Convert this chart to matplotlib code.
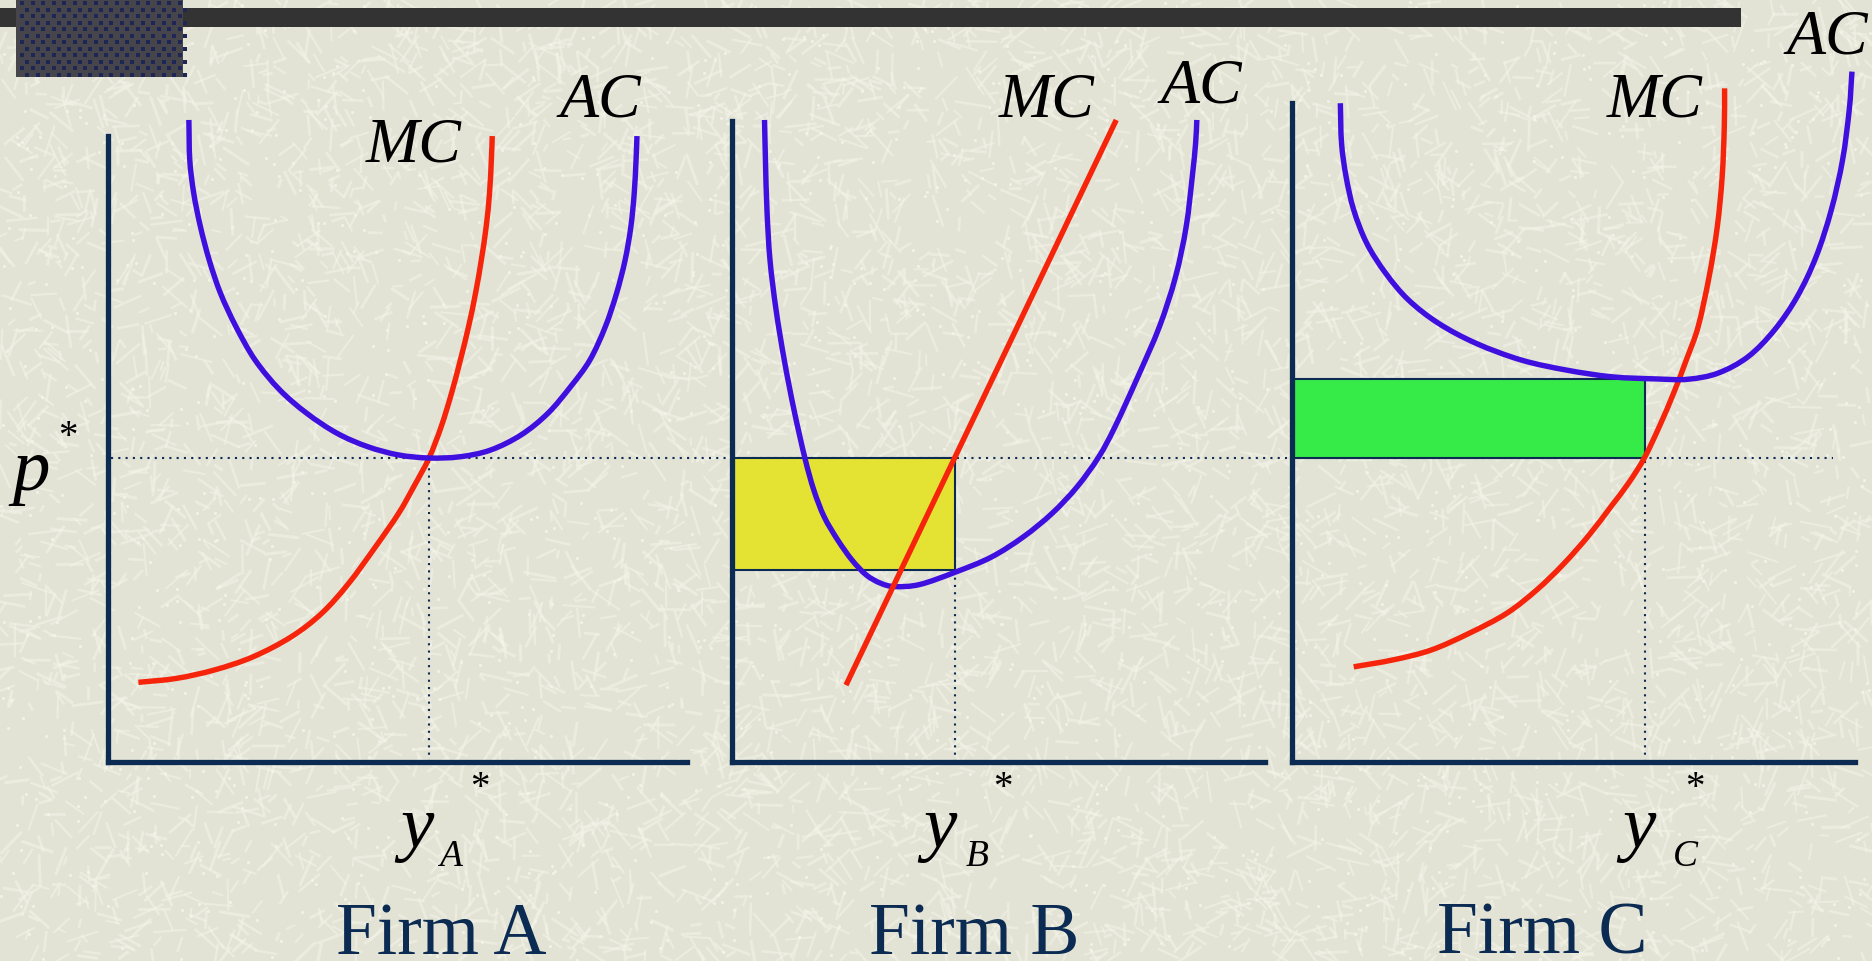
import numpy as np
import matplotlib.pyplot as plt
from matplotlib.collections import LineCollection
from matplotlib.patches import Rectangle, PathPatch
from matplotlib.path import Path

plt.rcParams['font.family'] = ['Liberation Serif', 'DejaVu Serif']

# price / quantity units: p* = 100 on every panel
P_STAR = 100.0

# Firm A: AC touches p* at its minimum
acA_q = [26.6, 26.9, 28.2, 30.4, 33.3, 37.0, 42.1, 48.4, 56.5, 65.4, 75.4, 85.5, 95.6, 105.6,
         115.7, 125.8, 135.9, 144.7, 152.2, 158.5, 163.6, 167.3, 170.1, 172.0, 173.1, 173.7, 174.0]
acA_p = [211.2, 198.0, 187.1, 176.1, 165.1, 154.2, 143.2, 132.2, 122.4, 114.7, 108.1, 103.7, 101.0, 100.0,
         100.4, 102.6, 107.6, 114.7, 123.5, 132.2, 143.2, 154.2, 165.1, 176.1, 187.1, 198.0, 205.9]
mcA_q = [10.0, 22.5, 35.1, 47.7, 60.3, 70.4, 79.2, 88.0, 95.6, 100.6, 105.6,
         109.6, 113.0, 115.9, 118.6, 120.9, 122.8, 124.4, 125.5, 126.1, 126.4]
mcA_p = [26.2, 27.5, 30.3, 34.6, 41.2, 49.0, 58.8, 70.8, 81.8, 90.6, 100.0,
         110.3, 121.3, 132.2, 143.2, 154.2, 165.1, 176.1, 187.1, 198.0, 205.9]
yA_star = 105.5

# Firm B: p* above AC minimum (profit)
acB_q = [10.7, 11.0, 11.5, 12.5, 14.5, 17.2, 20.4, 24.0, 26.9, 30.3, 34.8, 39.5, 44.2, 48.9, 53.6,
         61.8, 73.6, 85.3, 95.9, 105.3, 113.5, 120.6, 126.0, 133.5, 140.6, 145.9, 149.4, 151.4, 152.5, 152.9]
acB_p = [211.2, 198.0, 181.6, 165.1, 148.7, 132.2, 115.8, 99.9, 89.5, 80.7, 73.0, 66.4, 61.5, 58.8, 57.7,
         58.4, 62.5, 67.4, 74.1, 81.8, 90.5, 100.3, 110.3, 126.7, 143.2, 159.6, 176.1, 192.5, 203.5, 211.2]
mcB_q = [37.5, 126.4]
mcB_p = [25.3, 211.2]
yB_star = 73.4
acB_at_yB = 63.0

# Firm C: p* below AC minimum (loss)
acC_q = [15.9, 16.3, 17.8, 20.3, 24.6, 30.8, 38.3, 48.2, 60.6, 75.5, 90.4, 105.3, 120.2, 130.2,
         140.1, 150.0, 158.7, 166.2, 172.4, 177.4, 181.1, 183.3, 184.2]
acC_p = [216.7, 203.5, 192.5, 181.6, 170.6, 160.8, 152.0, 144.3, 137.7, 132.2, 128.9, 126.7, 126.0, 125.9,
         127.9, 133.3, 142.1, 153.1, 166.2, 181.6, 198.0, 214.5, 227.1]
mcC_q = [20.3, 33.3, 45.7, 58.2, 70.6, 80.5, 89.2, 97.6, 104.9, 110.6, 115.9,
         120.9, 125.6, 129.8, 133.6, 137.2, 139.9, 141.5, 142.2, 142.3]
mcC_p = [31.3, 33.6, 36.8, 42.3, 48.9, 56.6, 65.0, 74.5, 84.0, 91.6, 100.0,
         110.5, 121.5, 132.5, 143.2, 159.6, 176.1, 192.5, 209.0, 221.6]
yC_star = 116.0
acC_min = 126.0

NAVY = '#0b2b52'
BLUE = '#3f0fe0'
RED = '#f5240a'
W, H = 1872, 961
PX = 3.04          # pixels per unit
BASE_Y = 762       # pixel row of the quantity axes

fig = plt.figure(figsize=(W / 100, H / 100), dpi=100)
fig.patch.set_facecolor('#e2e2d5')

# background: texture, title bar, corner block
bg = fig.add_axes([0, 0, 1, 1])
bg.set_xlim(0, W)
bg.set_ylim(H, 0)
bg.axis('off')
rng = np.random.default_rng(11)
n = 7000
cx = rng.uniform(0, W, n)
cy = rng.uniform(0, H, n)
ang = rng.uniform(0, np.pi, n)
ln = rng.uniform(8, 34, n)
segs = np.stack([np.c_[cx - ln * np.cos(ang) / 2, cy - ln * np.sin(ang) / 2],
                 np.c_[cx + ln * np.cos(ang) / 2, cy + ln * np.sin(ang) / 2]], axis=1)
bg.add_collection(LineCollection(segs, colors='#f4f4e8', linewidths=rng.uniform(1.4, 2.2, n),
                                 alpha=0.55, zorder=0))
bg.scatter(rng.uniform(0, W, 1500), rng.uniform(0, H, 1500), s=5, color='#f6f6ec', alpha=0.8,
           lw=0, zorder=0)
bg.add_patch(Rectangle((0, 8), 1741, 19, color='#333333', lw=0, zorder=2))
bg.add_patch(Rectangle((16, 0), 167, 77, color='#45454b', lw=0, zorder=3))
gx, gy = np.meshgrid(np.arange(22, 182, 10.5), np.arange(3, 76, 6.5))
gx = gx + (np.arange(gy.shape[0])[:, None] % 2) * 5.2
bg.scatter(gx.ravel(), gy.ravel(), s=7, marker='s', color='#1e2656', lw=0, zorder=4)


def panel(axis_x, top, right):
    ax = fig.add_axes([axis_x / W, (H - BASE_Y) / H, (right - axis_x) / W, (BASE_Y - top) / H])
    ax.set_xlim(0, (right - axis_x) / PX)
    ax.set_ylim(0, (BASE_Y - top) / PX)
    ax.patch.set_alpha(0)
    for s in ['top', 'right']:
        ax.spines[s].set_visible(False)
    for s in ['left', 'bottom']:
        ax.spines[s].set_color(NAVY)
        ax.spines[s].set_linewidth(3.8)
        ax.spines[s].set_capstyle('projecting')
        ax.spines[s].set_zorder(5)
    ax.set_xticks([])
    ax.set_yticks([])
    return ax


def draw_curve(ax, q, p, color):
    # smooth Catmull-Rom style stroke through the points
    pts = np.column_stack([q, p])
    ext = np.vstack([2 * pts[0] - pts[1], pts, 2 * pts[-1] - pts[-2]])
    verts = [pts[0]]
    codes = [Path.MOVETO]
    for i in range(1, len(ext) - 2):
        p0, p1, p2, p3 = ext[i - 1], ext[i], ext[i + 1], ext[i + 2]
        verts += [p1 + (p2 - p0) / 6, p2 - (p3 - p1) / 6, p2]
        codes += [Path.CURVE4] * 3
    ax.add_patch(PathPatch(Path(verts, codes), fill=False, edgecolor=color, lw=3.9,
                           capstyle='butt', joinstyle='round', clip_on=False, zorder=4))


axA = panel(108, 136, 687)
axB = panel(732, 121, 1265)
axC = panel(1292, 103, 1855)

dot = dict(color=NAVY, lw=1.5, linestyle=(0, (1, 2.5)), clip_on=False, zorder=1)
ital = dict(fontstyle='italic', color='black', ha='center', va='baseline')

# p* line runs across all three panels
axA.plot([1, (1833 - 108) / PX], [P_STAR, P_STAR], **dot)

# Firm A
axA.plot([yA_star, yA_star], [0, P_STAR], **dot)
draw_curve(axA, mcA_q, mcA_p, RED)
draw_curve(axA, acA_q, acA_p, BLUE)

# Firm B
axB.add_patch(Rectangle((0, acB_at_yB), yB_star, P_STAR - acB_at_yB, facecolor='#e4e333',
                        edgecolor=NAVY, lw=1.5, zorder=2))
axB.plot([yB_star, yB_star], [0, acB_at_yB], **dot)
draw_curve(axB, acB_q, acB_p, BLUE)
axB.plot(mcB_q, mcB_p, color=RED, lw=3.9, solid_capstyle='butt', clip_on=False, zorder=4)

# Firm C
axC.add_patch(Rectangle((0, P_STAR), yC_star, acC_min - P_STAR, facecolor='#36ea48',
                        edgecolor=NAVY, lw=1.5, zorder=2))
axC.plot([yC_star, yC_star], [0, P_STAR], **dot)
draw_curve(axC, mcC_q, mcC_p, RED)
draw_curve(axC, acC_q, acC_p, BLUE)

# curve labels
for ax, mc_pos, ac_pos in [(axA, (100.7, 197.4), (161.8, 212.2)),
                           (axB, (103.6, 212.2), (154.3, 217.1)),
                           (axC, (119.4, 212.2), (176.0, 233.2))]:
    ax.text(*mc_pos, 'MC', fontsize=46, **ital)
    ax.text(*ac_pos, 'AC', fontsize=46, **ital)

# price label
axA.text(-25.3, 89.5, 'p', fontsize=54, **ital)
axA.text(-13.2, 106.6, '*', fontsize=28, color='black', ha='center', va='center')

# quantity labels and firm names
for ax, yq, sq, stq, sub, fq, name in [(axA, 101.6, 112.8, 122.4, 'A', 109.7, 'Firm A'),
                                       (axB, 68.4, 80.6, 89.1, 'B', 79.8, 'Firm B'),
                                       (axC, 114.1, 129.3, 132.6, 'C', 82.2, 'Firm C')]:
    ax.text(yq, -28.0, 'y', fontsize=54, **ital)
    ax.text(sq, -34.2, sub, fontsize=27, **ital)
    ax.text(stq, -8.6, '*', fontsize=28, color='black', ha='center', va='center')
    ax.text(fq, -63.0, name, fontsize=53, color=NAVY, ha='center', va='baseline')

fig.savefig('out.png', dpi=100, facecolor=fig.get_facecolor())
